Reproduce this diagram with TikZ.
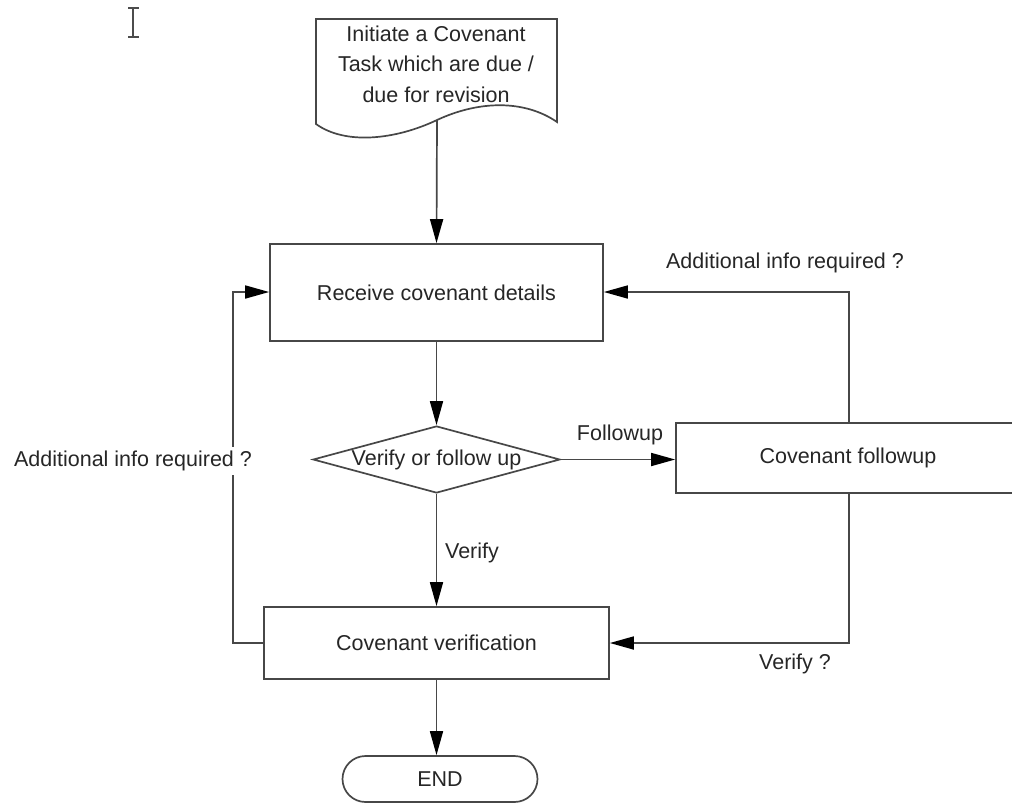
\documentclass[tikz,border=0pt]{standalone}
\usepackage{fontspec}
\setmainfont{Liberation Sans}
\usetikzlibrary{arrows.meta,shapes.geometric,shapes.misc}
\begin{document}
\begin{tikzpicture}[x=1pt,y=-1pt,
  ln/.style={draw=black!72,line width=1.7pt},
  arr/.style={ln,-{Triangle[length=24pt,width=13pt,fill=black,color=black]}},
  box/.style={ln,fill=white,rectangle,inner sep=0pt,text=black!85,font=\fontsize{21.5}{28}\selectfont},
  lbl/.style={text=black!85,font=\fontsize{21.5}{28}\selectfont,inner sep=2pt},
  every node/.append style={anchor=center}]
\useasboundingbox (0,0) rectangle (1012,804);
\clip (0,0) rectangle (1012,804);
% cursor
\draw[line width=1.4pt,black!70] (133,8) -- (133,37) (128,8) -- (139,8) (128,37) -- (139,37);
% document shape
\draw[ln,fill=white] (316,19) -- (557,19) -- (557,122)
  .. controls (525,100) and (480,100) .. (437,120)
  .. controls (395,140) and (345,145) .. (316,124) -- cycle;
\node[lbl,align=center,font=\fontsize{21.5}{30.5}\selectfont] (doc) at (436,64) {Initiate a Covenant\\Task which are due /\\due for revision};
\coordinate (docbot) at (437,120);
% boxes
\node[box,minimum width=333pt,minimum height=97pt] (recv) at (436.5,292.5) {Receive covenant details};
\node[box,diamond,aspect=3.7,minimum width=247pt,minimum height=67pt,inner sep=0pt] (dec) at (436.5,459.5) {};
\node[lbl] at (436.5,459.5) {Verify or follow up};
\node[box,minimum width=344pt,minimum height=70pt] (fup) at (848,458) {Covenant followup};
\node[box,minimum width=345pt,minimum height=72pt] (ver) at (436.5,643) {Covenant verification};
\node[box,rounded rectangle,minimum width=195pt,minimum height=46pt] (end) at (440,779) {END};
% corner coordinates
\coordinate (c1) at (849,292);
\coordinate (c2) at (849,643);
\coordinate (c3) at (233,643);
\coordinate (c4) at (233,292);
% connectors
\draw[arr] (docbot) -- (recv.north);
\draw[arr] (recv.south) -- (dec.north);
\draw[arr] (dec.east) -- (dec.east -| fup.west);
\draw[arr] (dec.south) -- (ver.north);
\draw[arr] (fup.north -| c1) -- (c1) -- (recv.east |- c1);
\draw[arr] (fup.south -| c2) -- (c2) -- (ver.east |- c2);
\draw[arr] (ver.west |- c3) -- (c3) -- (c4) -- (recv.west |- c4);
\draw[arr] (ver.south) -- (end.north -| ver.south);
% labels
\node[lbl] (l1) at (620,435) {Followup};
\node[lbl] (l2) at (472,553) {Verify};
\node[lbl] (l3) at (785,263) {Additional info required ?};
\node[lbl] (l4) at (795,664) {Verify ?};
\node[lbl,fill=white,inner ysep=4pt] (l5) at (133,461) {Additional info required ?};
\end{tikzpicture}
\end{document}
